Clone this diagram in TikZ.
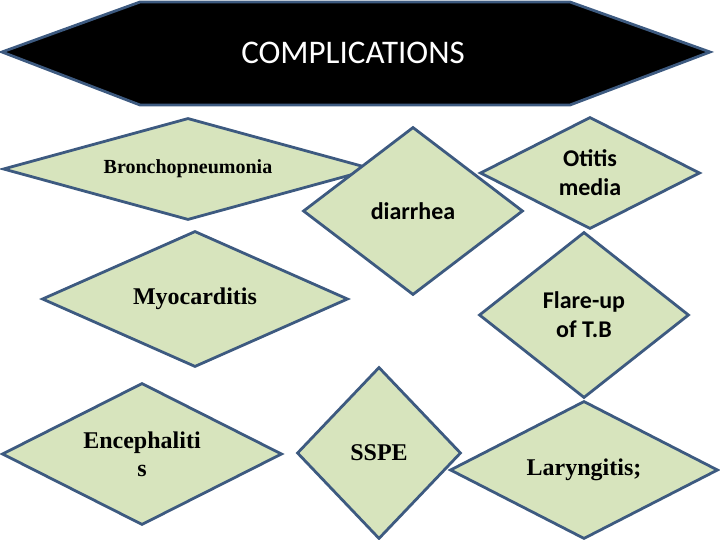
\documentclass[tikz,border=0pt]{standalone}
\usepackage{fontspec}
\setmainfont{Liberation Serif}
\newfontfamily\calibri{Carlito}
\usepackage{xcolor}
\usepackage{tikz}
\usetikzlibrary{shapes.geometric}

\definecolor{leafgreen}{HTML}{D7E4BD}
\definecolor{rimblue}{HTML}{3D5A80}

\begin{document}
\begin{tikzpicture}[x=1pt, y=-1pt,
    comp/.style={diamond, draw=rimblue, fill=leafgreen, line width=2.8pt,
                 inner sep=0pt, align=center},
    tnr/.style={font=\fontsize{24}{28}\selectfont\bfseries},
    cal/.style={font=\calibri\fontsize{24}{29}\selectfont\bfseries},
    banner/.style={fill=black, draw=rimblue, line width=2.8pt},
]
\useasboundingbox (0,0) rectangle (720,540);

\draw[banner] (2,52) -- (140,2) -- (570,2) -- (710,52) -- (570,105) -- (140,105) -- cycle;
\node[text=white, font=\calibri\fontsize{33}{39}\selectfont] (title) at (353,53) {COMPLICATIONS};

\node[comp, shape aspect=3.6, minimum width=370pt, minimum height=102pt,
      font=\fontsize{20}{24}\selectfont\bfseries] (broncho) at (188,169) {Bronchopneumonia};
\node[comp, cal, shape aspect=1.3, minimum width=220pt, minimum height=168pt] (diarrhea) at (413,211) {diarrhea};
\node[comp, cal, shape aspect=2, minimum width=220pt, minimum height=112pt] (otitis) at (590,173) {Otitis\\media};
\node[comp, tnr, shape aspect=2.2, minimum width=306pt, minimum height=136pt] (myo) at (195,299) {Myocarditis};
\node[comp, cal, shape aspect=1.3, minimum width=210pt, minimum height=166pt] (flare) at (584,315) {Flare-up\\of T.B};
\node[comp, tnr, shape aspect=2, minimum width=280pt, minimum height=142pt] (enceph) at (142,454) {Encephaliti\\s};
\node[comp, tnr, shape aspect=0.95, minimum width=164pt, minimum height=172pt] (sspe) at (379,453) {SSPE};
\node[comp, tnr, shape aspect=1.9, minimum width=268pt, minimum height=138pt] (laryn) at (584,470) {Laryngitis;};
\end{tikzpicture}
\end{document}
